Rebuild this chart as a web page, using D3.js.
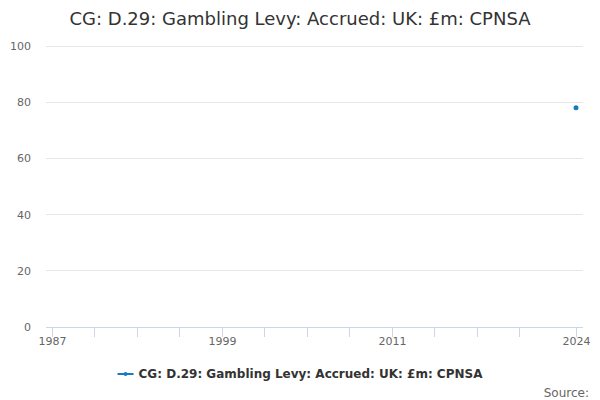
<!DOCTYPE html>
<html>
<head>
<meta charset="utf-8">
<script src="https://cdn.jsdelivr.net/npm/d3@7"></script>
<style>
body { margin: 0; background: #fff; }
svg { display: block; font-family: "DejaVu Sans", sans-serif; }
</style>
</head>
<body>
<svg id="chart" width="600" height="400"></svg>
<script>
const title = "CG: D.29: Gambling Levy: Accrued: UK: £m: CPNSA";
const seriesName = "CG: D.29: Gambling Levy: Accrued: UK: £m: CPNSA";
const years = [2024];
const values = [78];
const yTicks = [0, 20, 40, 60, 80, 100];
const xTicks = [1987, 1990, 1993, 1996, 1999, 2002, 2005, 2008, 2011, 2014, 2017, 2020, 2024];
const xLabels = [1987, 1999, 2011, 2024];

const svg = d3.select("#chart");
const color = "#1a7abf";

const x = d3.scaleLinear().domain([1987, 2024]).range([52, 576]);
const y = d3.scaleLinear().domain([0, 100]).range([327, 46]);
const left = 46, right = 583;

svg.append("text").attr("x", 300).attr("y", 25).attr("text-anchor", "middle")
  .attr("font-size", 18).attr("fill", "#333").text(title);

// grid
svg.append("g").selectAll("line").data(yTicks.filter(d => d > 0)).join("line")
  .attr("x1", left).attr("x2", right).attr("y1", d => y(d)).attr("y2", d => y(d))
  .attr("stroke", "#e6e6e6").attr("stroke-width", 1).attr("shape-rendering", "crispEdges");

svg.append("g").selectAll("text").data(yTicks).join("text")
  .attr("x", 31).attr("y", d => y(d) + 4).attr("text-anchor", "end")
  .attr("font-size", 11).attr("fill", "#666").text(d => d);

// x axis
const xAxis = d3.axisBottom(x).tickValues(xTicks).tickSize(10)
  .tickFormat(d => xLabels.includes(d) ? d : "");
const gx = svg.append("g").attr("transform", `translate(0,${y(0)})`).call(xAxis);
gx.select(".domain").remove();
gx.append("line").attr("x1", left).attr("x2", right).attr("stroke", "#ccd6eb").attr("shape-rendering", "crispEdges");
gx.selectAll(".tick line").attr("stroke", "#ccd6eb").attr("shape-rendering", "crispEdges");
gx.selectAll(".tick text").attr("fill", "#666").attr("font-size", 11)
  .attr("font-family", "DejaVu Sans, sans-serif").attr("y", 10);

// points
svg.append("g").selectAll("circle").data(years.map((d, i) => [d, values[i]])).join("circle")
  .attr("cx", d => x(d[0])).attr("cy", d => y(d[1])).attr("r", 2.5).attr("fill", color);

// legend
const lg = svg.append("g");
const lt = lg.append("text").attr("x", 0).attr("y", 0).attr("font-size", 12).attr("font-weight", "bold")
  .attr("fill", "#333").text(seriesName);
const w = lt.node().getComputedTextLength();
const total = 16 + 5 + w;
const lx = 300 - total / 2;
lt.attr("x", lx + 21).attr("y", 378);
lg.append("line").attr("x1", lx).attr("x2", lx + 16).attr("y1", 374).attr("y2", 374)
  .attr("stroke", color).attr("stroke-width", 2);
lg.append("circle").attr("cx", lx + 8).attr("cy", 374).attr("r", 2).attr("fill", color);

svg.append("text").attr("x", 589).attr("y", 397).attr("text-anchor", "end")
  .attr("font-size", 12).attr("fill", "#666").text("Source:");
</script>
</body>
</html>
